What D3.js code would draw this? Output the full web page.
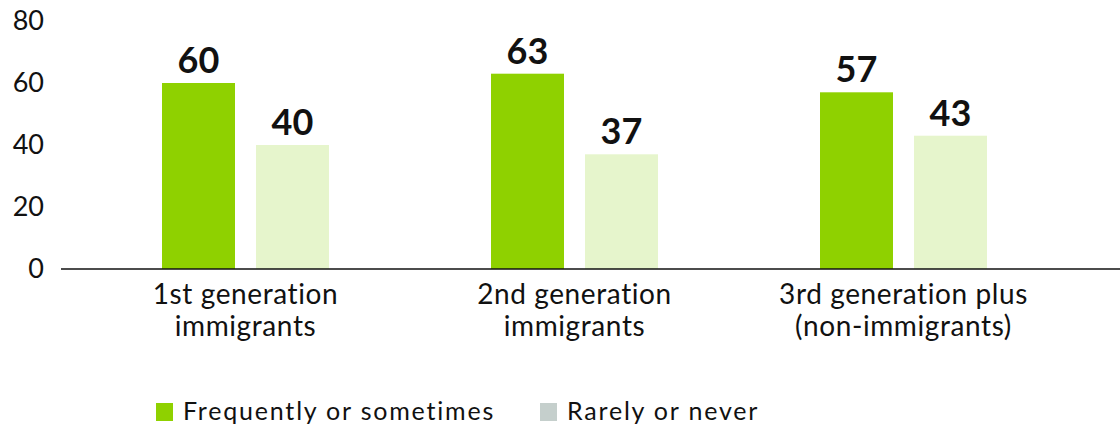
<!DOCTYPE html>
<html><head><meta charset="utf-8">
<script src="https://cdn.jsdelivr.net/npm/d3@7"></script>
<style>
body{margin:0;background:#fff;}
text{font-family:Lato,"Noto Sans",sans-serif;fill:#111;}
</style></head>
<body>
<svg id="chart" width="1120" height="429"></svg>
<script>
const categories = [["1st generation","immigrants"],["2nd generation","immigrants"],["3rd generation plus","(non-immigrants)"]];
const seriesNames = ["Frequently or sometimes","Rarely or never"];
const frequently = [60, 63, 57];
const rarely = [40, 37, 43];
const yTicks = [0, 20, 40, 60, 80];
const barColors = ["#8fd100", "#e6f5cc"];
const legendColors = ["#8fd100", "#c5cfcc"];

const svg = d3.select("#chart");
const catKeys = categories.map(c => c.join(" "));
const x = d3.scaleBand().domain(catKeys).range([81, 81 + 329*3]).paddingInner(0).paddingOuter(0);
const xi = d3.scaleBand().domain(seriesNames).range([81, 248]).paddingInner(21/94).paddingOuter(0);
const y = d3.scaleLinear().domain([0, 80]).range([269, 21]);

// y tick labels
svg.append("g").selectAll("text").data(yTicks).join("text")
  .attr("x", 44).attr("y", d => y(d)).attr("dy", "0.33em")
  .attr("text-anchor", "end").style("font-size", "27px").text(d => d);

const data = catKeys.map((k, i) => ({k, vals: [frequently[i], rarely[i]]}));
const g = svg.append("g").selectAll("g").data(data).join("g")
  .attr("transform", d => `translate(${x(d.k)},0)`);
g.selectAll("rect").data(d => d.vals.map((v, j) => ({v, s: seriesNames[j], j}))).join("rect")
  .attr("x", d => xi(d.s)).attr("width", xi.bandwidth())
  .attr("y", d => y(d.v)).attr("height", d => y(0) - y(d.v))
  .attr("fill", d => barColors[d.j]);
g.selectAll("text.val").data(d => d.vals.map((v, j) => ({v, s: seriesNames[j], j}))).join("text")
  .attr("class", "val")
  .attr("x", d => xi(d.s) + xi.bandwidth()/2).attr("y", d => y(d.v) - 10)
  .attr("text-anchor", "middle").style("font-size", "36px").style("font-weight", "bold")
  .text(d => d.v);

// baseline
svg.append("line").attr("x1", 61).attr("x2", 1120).attr("y1", y(0)).attr("y2", y(0))
  .attr("stroke", "#111").attr("stroke-width", 1.5);

// category labels
const cl = svg.append("g").selectAll("text").data(categories).join("text")
  .attr("x", (d, i) => x(catKeys[i]) + 164.5)
  .attr("y", 304).attr("text-anchor", "middle")
  .style("font-size", "28px").style("letter-spacing", "0.6px");
cl.selectAll("tspan").data(d => d).join("tspan")
  .attr("x", function(){ return this.parentNode.getAttribute("x"); })
  .attr("dy", (d, i) => i === 0 ? 0 : 32).text(d => d);

// legend
const legendX = [156, 540];
const lg = svg.append("g").selectAll("g").data(seriesNames).join("g")
  .attr("transform", (d, i) => `translate(${legendX[i]},403)`);
lg.append("rect").attr("width", 17).attr("height", 18).attr("fill", (d, i) => legendColors[i]);
lg.append("text").attr("x", 27).attr("y", 17).style("font-size", "25px")
  .style("letter-spacing", "1.8px").text(d => d);
</script>
</body></html>
